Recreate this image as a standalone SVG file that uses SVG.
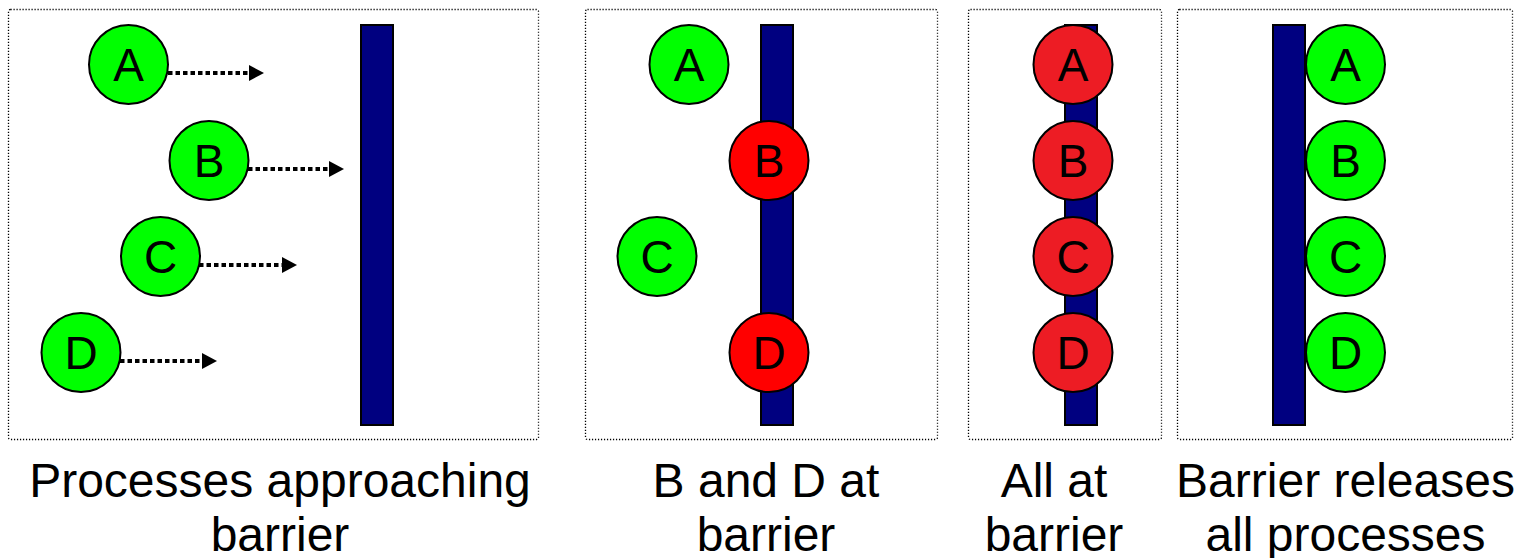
<svg xmlns="http://www.w3.org/2000/svg" width="1514" height="558" viewBox="0 0 1514 558">
<style>
.panel{fill:#fff;stroke:#000;stroke-width:1.3;stroke-dasharray:1.2 1.8}
.bar{fill:#000080;stroke:#000;stroke-width:2}
.g{fill:#00ff00;stroke:#000;stroke-width:2}
.r{fill:#ff0000;stroke:#000;stroke-width:2}
.r2{fill:#ed1c24;stroke:#000;stroke-width:2}
.lt{font-family:"Liberation Sans",Arial,sans-serif;font-size:46px;text-anchor:middle;fill:#000}
.cap{font-family:"Liberation Sans",Arial,sans-serif;font-size:48px;text-anchor:middle;fill:#000}
.arr{stroke:#000;stroke-width:4;stroke-dasharray:4.5 3;fill:none}
</style>
<defs>
<marker id="ah" markerWidth="15" markerHeight="16" refX="0" refY="8" orient="auto" markerUnits="userSpaceOnUse">
<path d="M0,0 L15,8 L0,16 Z" fill="#000"/>
</marker>
</defs>
<rect width="1514" height="558" fill="#fff"/>
<g id="panel1">
<rect class="panel" x="8.5" y="9.5" width="530" height="430" rx="2"/>
<rect class="bar" x="361" y="25" width="32" height="400"/>
</g>
<g id="panel2">
<rect class="panel" x="585.5" y="9.5" width="352" height="430" rx="2"/>
<rect class="bar" x="761" y="25" width="32" height="400"/>
</g>
<g id="panel3">
<rect class="panel" x="968.5" y="9.5" width="193" height="430" rx="2"/>
<rect class="bar" x="1065" y="25" width="32" height="400"/>
</g>
<g id="panel4">
<rect class="panel" x="1177.5" y="9.5" width="335" height="430" rx="2"/>
<rect class="bar" x="1273" y="25" width="32" height="400"/>
</g>
<g id="connectors">
<line class="arr" x1="168" y1="73" x2="249" y2="73" marker-end="url(#ah)"/>
<line class="arr" x1="248" y1="169" x2="329" y2="169" marker-end="url(#ah)"/>
<line class="arr" x1="199" y1="265" x2="282" y2="265" marker-end="url(#ah)"/>
<line class="arr" x1="120" y1="361" x2="202" y2="361" marker-end="url(#ah)"/>
</g>
<g id="p1A"><circle class="g" cx="128.5" cy="64.5" r="39.5"/><text class="lt" x="128.5" y="81">A</text></g>
<g id="p1B"><circle class="g" cx="209" cy="160.5" r="39.5"/><text class="lt" x="209" y="177">B</text></g>
<g id="p1C"><circle class="g" cx="160.5" cy="256.5" r="39.5"/><text class="lt" x="160.5" y="273">C</text></g>
<g id="p1D"><circle class="g" cx="81" cy="352.5" r="39.5"/><text class="lt" x="81" y="369">D</text></g>
<g id="p2A"><circle class="g" cx="689" cy="64.5" r="39.5"/><text class="lt" x="689" y="81">A</text></g>
<g id="p2B"><circle class="r" cx="769" cy="160.5" r="39.5"/><text class="lt" x="769" y="177">B</text></g>
<g id="p2C"><circle class="g" cx="657" cy="256.5" r="39.5"/><text class="lt" x="657" y="273">C</text></g>
<g id="p2D"><circle class="r" cx="769" cy="352.5" r="39.5"/><text class="lt" x="769" y="369">D</text></g>
<g id="p3A"><circle class="r2" cx="1073" cy="64.5" r="39.5"/><text class="lt" x="1073" y="81">A</text></g>
<g id="p3B"><circle class="r2" cx="1073" cy="160.5" r="39.5"/><text class="lt" x="1073" y="177">B</text></g>
<g id="p3C"><circle class="r2" cx="1073" cy="256.5" r="39.5"/><text class="lt" x="1073" y="273">C</text></g>
<g id="p3D"><circle class="r2" cx="1073" cy="352.5" r="39.5"/><text class="lt" x="1073" y="369">D</text></g>
<g id="p4A"><circle class="g" cx="1345.5" cy="64.5" r="39.5"/><text class="lt" x="1345.5" y="81">A</text></g>
<g id="p4B"><circle class="g" cx="1345.5" cy="160.5" r="39.5"/><text class="lt" x="1345.5" y="177">B</text></g>
<g id="p4C"><circle class="g" cx="1345.5" cy="256.5" r="39.5"/><text class="lt" x="1345.5" y="273">C</text></g>
<g id="p4D"><circle class="g" cx="1345.5" cy="352.5" r="39.5"/><text class="lt" x="1345.5" y="369">D</text></g>
<g id="captions">
<text class="cap" x="280" y="497">Processes approaching</text>
<text class="cap" x="280" y="551">barrier</text>
<text class="cap" x="766" y="497">B and D at</text>
<text class="cap" x="766" y="551">barrier</text>
<text class="cap" x="1054" y="497">All at</text>
<text class="cap" x="1054" y="551">barrier</text>
<text class="cap" x="1345.5" y="497">Barrier releases</text>
<text class="cap" x="1345.5" y="551">all processes</text>
</g>
</svg>
